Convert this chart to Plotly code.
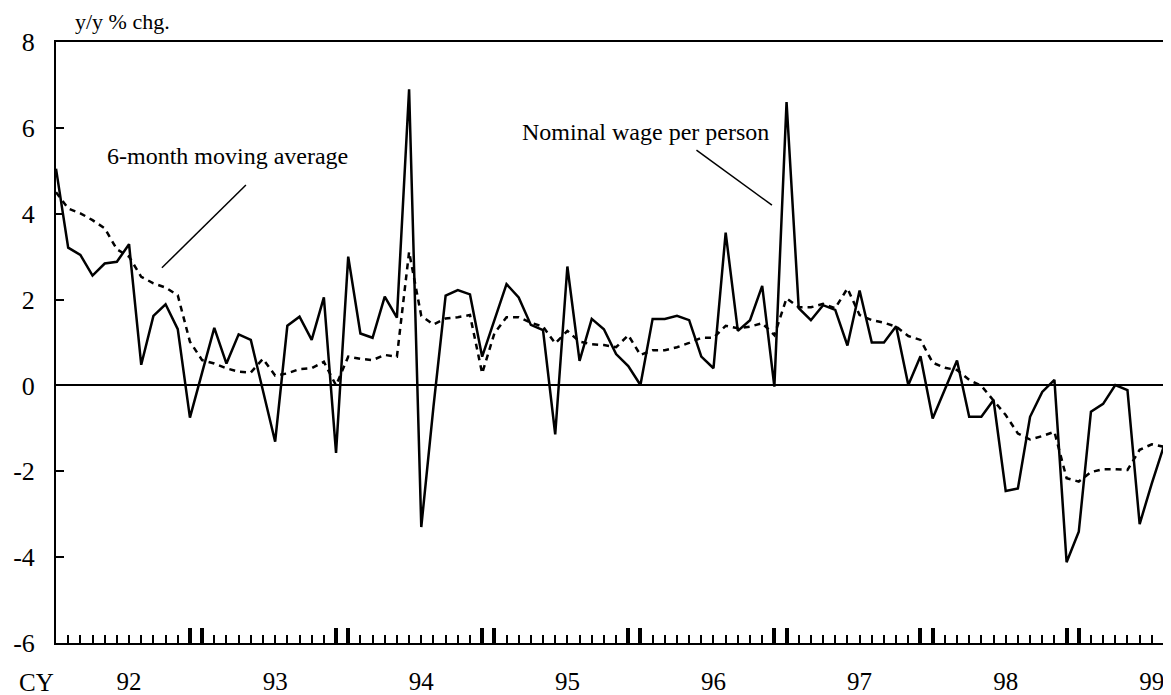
import plotly.graph_objects as go

# monthly index, Jan 1992 = 0 ... Aug 1999 = 91
months = list(range(92))

wage = [5.05, 3.21, 3.04, 2.56, 2.84, 2.88, 3.29, 0.48, 1.62, 1.89, 1.31, -0.75,
        0.30, 1.34, 0.51, 1.19, 1.06, -0.12, -1.31, 1.39, 1.60, 1.06, 2.05, -1.57,
        3.00, 1.21, 1.11, 2.07, 1.58, 6.90, -3.30, -0.50, 2.09, 2.22, 2.12, 0.67,
        1.52, 2.36, 2.05, 1.41, 1.29, -1.14, 2.77, 0.57, 1.55, 1.31, 0.73, 0.45,
        0.01, 1.55, 1.55, 1.62, 1.52, 0.67, 0.40, 3.56, 1.27, 1.52, 2.32, -0.03,
        6.60, 1.80, 1.52, 1.87, 1.76, 0.93, 2.21, 1.00, 1.00, 1.38, 0.01, 0.68,
        -0.77, -0.09, 0.58, -0.73, -0.73, -0.34, -2.46, -2.40, -0.73, -0.15, 0.13, -4.12,
        -3.41, -0.61, -0.43, 0.01, -0.11, -3.23, -2.28, -1.40]

ma6 = [4.50, 4.12, 4.01, 3.85, 3.66, 3.17, 3.00, 2.53, 2.38, 2.28, 2.10, 1.02,
       0.59, 0.51, 0.40, 0.32, 0.30, 0.62, 0.23, 0.28, 0.38, 0.40, 0.55, 0.00,
       0.67, 0.62, 0.59, 0.71, 0.67, 3.11, 1.62, 1.42, 1.56, 1.59, 1.64, 0.28,
       1.21, 1.59, 1.59, 1.46, 1.37, 0.98, 1.27, 1.02, 0.96, 0.94, 0.89, 1.17,
       0.71, 0.82, 0.82, 0.89, 0.99, 1.11, 1.11, 1.39, 1.33, 1.37, 1.45, 1.17,
       2.03, 1.82, 1.82, 1.90, 1.80, 2.26, 1.64, 1.52, 1.46, 1.37, 1.15, 1.06,
       0.53, 0.41, 0.36, 0.13, -0.01, -0.34, -0.69, -1.12, -1.26, -1.18, -1.08, -2.16,
       -2.24, -2.02, -1.95, -1.95, -1.97, -1.50, -1.37, -1.43]

years = ["92", "93", "94", "95", "96", "97", "98", "99"]
year_label_pos = [6, 18, 30, 42, 54, 66, 78, 90]   # July of each year
year_edge_ticks = [0, 11, 12, 23, 24, 35, 36, 47, 48, 59, 60, 71, 72, 83, 84]

y_ticks = [-6, -4, -2, 0, 2, 4, 6, 8]
y_labels = ["-6", "-4", "-2", "0", "2", "4", "6", "8"]

FONT = "Liberation Serif, Times New Roman, serif"

fig = go.Figure()

fig.add_trace(go.Scatter(
    x=months, y=ma6, mode="lines",
    line=dict(color="black", width=2.5, dash="6px,5px"),
    name="6-month moving average"
))
fig.add_trace(go.Scatter(
    x=months, y=wage, mode="lines",
    line=dict(color="black", width=2.5),
    name="Nominal wage per person"
))
# invisible traces so the overlay tick axes get drawn
for ax in ["x2", "x3"]:
    fig.add_trace(go.Scatter(x=months, y=wage, xaxis=ax, mode="lines",
                             line=dict(width=0), opacity=0, hoverinfo="skip"))

tick_axis = dict(
    overlaying="x", anchor="y", side="bottom", range=[0, 91],
    showticklabels=False, showline=False, showgrid=False, zeroline=False,
    tickcolor="black", automargin=False,
)

# page body has an 8px margin, so the figure is shrunk and shifted by that much
fig.update_layout(
    width=1163, height=687,
    margin=dict(l=48, r=7, t=34, b=52),
    plot_bgcolor="white", paper_bgcolor="white",
    showlegend=False,
    font=dict(family=FONT, color="black"),
    xaxis=dict(
        range=[0, 91], tickvals=year_label_pos, ticktext=years, ticks="",
        showline=True, mirror=True, linecolor="black", linewidth=2,
        showgrid=False, zeroline=False, automargin=False,
        tickfont=dict(size=25), ticklabelstandoff=15,
    ),
    xaxis2=dict(tick_axis, tickvals=months, ticks="inside", ticklen=8, tickwidth=1.5),
    xaxis3=dict(tick_axis, tickvals=year_edge_ticks, ticks="inside", ticklen=15, tickwidth=4),
    yaxis=dict(
        range=[-6, 8], tickvals=y_ticks, ticktext=y_labels,
        ticks="inside", ticklen=8, tickwidth=1.5, tickcolor="black",
        showline=True, mirror=True, linecolor="black", linewidth=2,
        showgrid=False, zeroline=True, zerolinecolor="black", zerolinewidth=2,
        automargin=False, tickfont=dict(size=26), ticklabelstandoff=14,
    ),
)

fig.add_annotation(text="y/y % chg.", xref="paper", yref="paper", x=0.015, y=1,
                   xanchor="left", yanchor="middle", yshift=21,
                   showarrow=False, font=dict(size=22))
fig.add_annotation(text="CY", xref="paper", yref="paper", x=-0.018, y=0,
                   xanchor="center", yanchor="middle", yshift=-39,
                   showarrow=False, font=dict(size=25))

fig.add_annotation(text="6-month moving average", xref="x", yref="y", x=14.1, y=5.34,
                   showarrow=False, font=dict(size=24))
fig.add_shape(type="line", xref="x", yref="y", x0=8.7, y0=2.74, x1=15.6, y1=4.67,
              line=dict(color="black", width=1.5))

fig.add_annotation(text="Nominal wage per person", xref="x", yref="y", x=48.4, y=5.9,
                   showarrow=False, font=dict(size=24))
fig.add_shape(type="line", xref="x", yref="y", x0=52.6, y0=5.48, x1=58.8, y1=4.20,
              line=dict(color="black", width=1.5))

fig.write_html("out.html")
